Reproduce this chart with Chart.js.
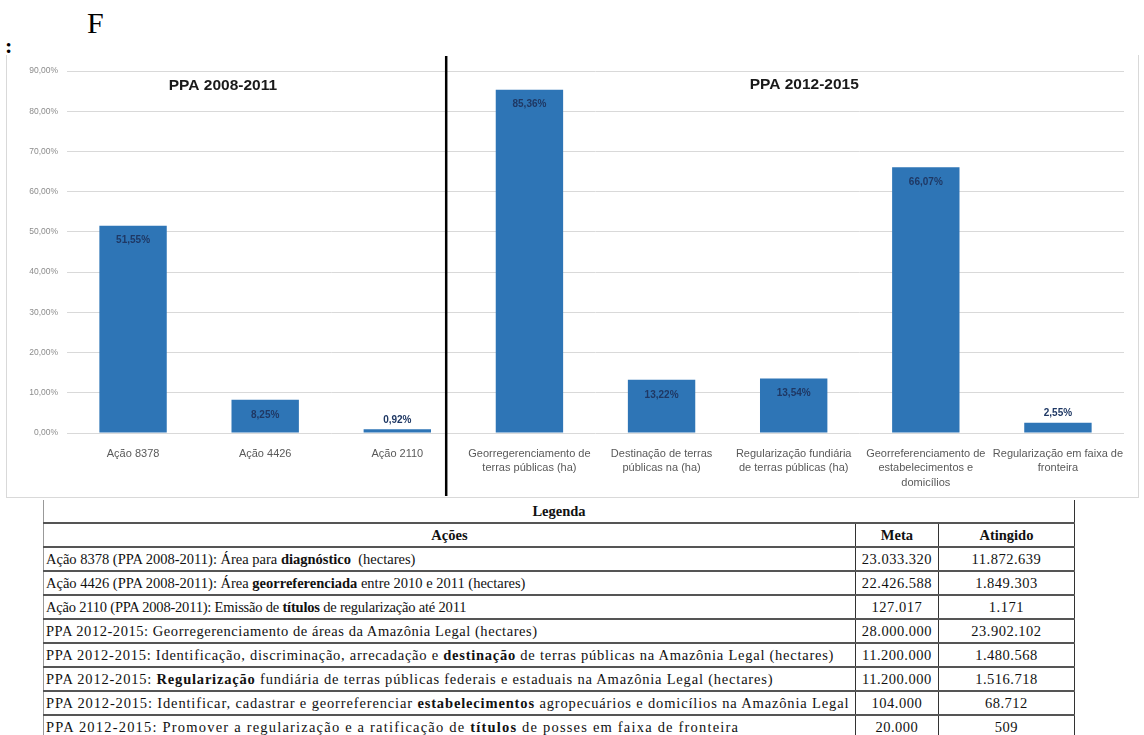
<!DOCTYPE html>
<html lang="pt">
<head>
<meta charset="utf-8">
<script src="https://cdn.jsdelivr.net/npm/chart.js@4"></script>
<style>
  body { margin: 0; width: 1144px; height: 735px; overflow: hidden; background: #fff; position: relative; font-family: "Liberation Serif", "Times New Roman", serif; }
  #letterF { position: absolute; left: 87px; top: 6px; font-size: 30px; color: #000; }
  #colon { position: absolute; left: 5px; top: 33px; font-size: 22px; font-weight: bold; color: #000; }
  #chartBox { position: absolute; left: 6px; top: 55px; width: 1133px; height: 443px; border: 1px solid #d9d9d9; border-top: none; box-sizing: border-box; background: #fff; }
  #legendTable { position: absolute; left: 43px; top: 500px; width: 1032px; border-collapse: collapse; font-size: 14.5px; color: #111; }
  #legendTable td { padding: 0 2px; height: 22px; line-height: 20px; border-left: 1px solid #333; border-right: 1px solid #333; border-bottom: 2px solid #555; white-space: nowrap; }
  #legendTable td:first-child { border-left-color: #999; }
  #legendTable td.num { text-align: center; letter-spacing: 0.5px; }
  #legendTable tr.top td { text-align: center; font-weight: bold; border-top: none; }
  #legendTable tr.head td { text-align: center; font-weight: bold; }
</style>
</head>
<body>
<div id="letterF">F</div>
<div id="colon">:</div>
<div id="chartBox"><canvas id="metaChart"></canvas></div>
<table id="legendTable">
  <colgroup><col style="width:812px"><col style="width:83px"><col style="width:137px"></colgroup>
  <tbody id="legendBody">
    <tr class="top"><td colspan="3">Legenda</td></tr>
    <tr class="head"><td>Ações</td><td>Meta</td><td>Atingido</td></tr>
  </tbody>
</table>
<script>
// Chart data
const categories = [
  ["Ação 8378"],
  ["Ação 4426"],
  ["Ação 2110"],
  ["Georregerenciamento de", "terras públicas (ha)"],
  ["Destinação de terras", "públicas na (ha)"],
  ["Regularização fundiária", "de terras públicas (ha)"],
  ["Georreferenciamento de", "estabelecimentos e", "domicílios"],
  ["Regularização em faixa de", "fronteira"]
];
const percentAtingido = [51.55, 8.25, 0.92, 85.36, 13.22, 13.54, 66.07, 2.55];
const yMin = 0, yMax = 90, yStep = 10;
const groupTitles = ["PPA 2008-2011", "PPA 2012-2015"];

// Legend table data
const acoes = [
  "Ação 8378 (PPA 2008-2011): Área para <b>diagnóstico</b>&nbsp; (hectares)",
  "Ação 4426 (PPA 2008-2011): Área <b>georreferenciada</b> entre 2010 e 2011 (hectares)",
  "Ação 2110 (PPA 2008-2011): Emissão de <b>títulos</b> de regularização até 2011",
  "PPA 2012-2015: Georregerenciamento de áreas da Amazônia Legal (hectares)",
  "PPA 2012-2015: Identificação, discriminação, arrecadação e <b>destinação</b> de terras públicas na Amazônia Legal (hectares)",
  "PPA 2012-2015: <b>Regularização</b> fundiária de terras públicas federais e estaduais na Amazônia Legal (hectares)",
  "PPA 2012-2015: Identificar, cadastrar e georreferenciar <b>estabelecimentos</b> agropecuários e domicílios na Amazônia Legal",
  "PPA 2012-2015: Promover a regularização e a ratificação de <b>títulos</b> de posses em faixa de fronteira"
];
const metas = ["23.033.320", "22.426.588", "127.017", "28.000.000", "11.200.000", "11.200.000", "104.000", "20.000"];
const atingidos = ["11.872.639", "1.849.303", "1.171", "23.902.102", "1.480.568", "1.516.718", "68.712", "509"];

// text spacing of each row in the scanned table (px)
const rowSpacing = [0, 0, -0.2, 0.55, 0.75, 0.8, 0.85, 1.2];

const tbody = document.getElementById("legendBody");
acoes.forEach((a, i) => {
  const row = document.createElement("tr");
  row.innerHTML = `<td style="letter-spacing:${rowSpacing[i]}px">${a}</td><td class="num">${metas[i]}</td><td class="num">${atingidos[i]}</td>`;
  tbody.appendChild(row);
});

function pct(v) {
  return v.toFixed(2).replace(".", ",") + "%";
}

// value labels, group titles and the separator line
const decorPlugin = {
  id: "decor",
  afterDatasetsDraw(chart) {
    const ctx = chart.ctx;
    const meta = chart.getDatasetMeta(0);
    ctx.save();
    ctx.font = 'bold 10px "Liberation Sans Narrow", "Liberation Sans", Arial';
    ctx.fillStyle = "#1f3864";
    ctx.textAlign = "center";
    ctx.textBaseline = "middle";
    meta.data.forEach((bar, i) => {
      const v = percentAtingido[i];
      const y = v > 5 ? bar.y + 15 : bar.y - 9;
      ctx.fillText(pct(v), bar.x, y);
    });
    ctx.restore();
  },
  afterDraw(chart) {
    const ctx = chart.ctx;
    const x = chart.scales.x;
    const step = x.getPixelForValue(1) - x.getPixelForValue(0);
    ctx.save();
    // separator between the two PPA periods
    const sepX = x.getPixelForValue(2) + 0.37 * step;
    ctx.strokeStyle = "#000";
    ctx.lineWidth = 2.5;
    ctx.beginPath();
    ctx.moveTo(sepX, 1);
    ctx.lineTo(sepX, chart.height - 1);
    ctx.stroke();
    // group titles
    ctx.font = 'bold 15.5px "Liberation Sans Narrow", "Liberation Sans", Arial';
    ctx.fillStyle = "#1a1a1a";
    ctx.textAlign = "center";
    ctx.textBaseline = "middle";
    ctx.fillText(groupTitles[0], x.getPixelForValue(0) + 0.68 * step, 31);
    ctx.fillText(groupTitles[1], x.getPixelForValue(5) + 0.08 * step, 30);
    ctx.restore();
  }
};

new Chart(document.getElementById("metaChart"), {
  type: "bar",
  data: {
    labels: categories,
    datasets: [{
      data: percentAtingido,
      backgroundColor: "#2e75b6",
      borderWidth: 0,
      categoryPercentage: 1,
      barPercentage: 0.51
    }]
  },
  options: {
    responsive: true,
    maintainAspectRatio: false,
    animation: false,
    layout: { padding: { top: 16, right: 14, left: 0, bottom: 0 } },
    plugins: { legend: { display: false }, tooltip: { enabled: false } },
    scales: {
      x: {
        grid: { display: false },
        border: { display: false },
        ticks: {
          autoSkip: false,
          maxRotation: 0,
          minRotation: 0,
          padding: 5,
          color: "#595959",
          font: { family: '"Liberation Sans", Arial', size: 11, lineHeight: 1.36 }
        },
        afterFit(scale) { scale.height = 64; }
      },
      y: {
        min: yMin,
        max: yMax,
        grid: { color: "#d9d9d9", lineWidth: 1, drawTicks: false },
        border: { display: false },
        ticks: {
          stepSize: yStep,
          padding: 9,
          color: "#8c8c8c",
          font: { family: '"Liberation Sans", Arial', size: 8.5 },
          callback: (v) => pct(v)
        },
        afterFit(scale) { scale.width = 60; }
      }
    }
  },
  plugins: [decorPlugin]
});
</script>
</body>
</html>
